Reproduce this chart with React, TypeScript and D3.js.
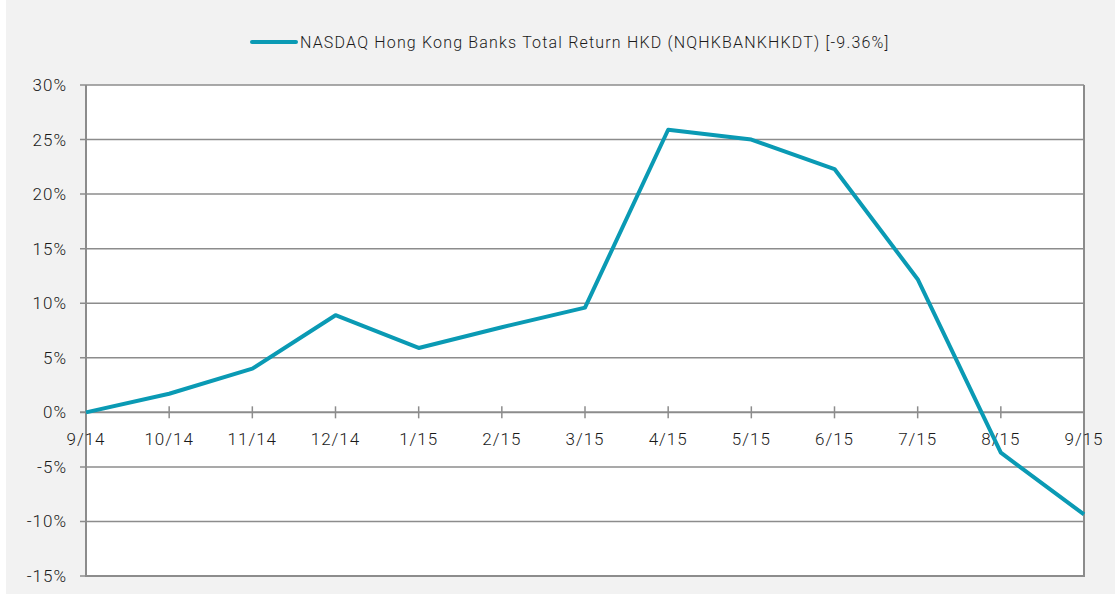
import React from 'react';
import * as d3 from 'd3';

const months = ['9/14', '10/14', '11/14', '12/14', '1/15', '2/15', '3/15', '4/15', '5/15', '6/15', '7/15', '8/15', '9/15'];
const totalReturn = [0, 1.7, 4.0, 8.9, 5.9, 7.8, 9.6, 25.9, 25.0, 22.3, 12.2, -3.7, -9.36];
const yTicks = [30, 25, 20, 15, 10, 5, 0, -5, -10, -15];
const legendLabel = 'NASDAQ Hong Kong Banks Total Return HKD (NQHKBANKHKDT) [-9.36%]';

const W = 1115;
const H = 594;
const LINE = '#0a9ab4';
const GRID = '#8c8c8c';
const FONT = 'Roboto, "Open Sans", sans-serif';

export default function App() {
  const x = d3.scalePoint<string>().domain(months).range([86, 1084]);
  const y = d3.scaleLinear().domain([-15, 30]).range([576, 85]);
  const line = d3.line<number>()
    .x((_, i) => x(months[i]) as number)
    .y(d => y(d));

  const txt = { fontFamily: FONT, fontWeight: 300, letterSpacing: 1, fill: '#1a1a1a' };

  return (
    <svg width={W} height={H} style={{ position: 'absolute', left: 0, top: 0 }}>
      <rect x={6} y={0} width={W - 6} height={H} fill="#f2f2f2" />
      <rect x={86} y={85} width={998} height={491} fill="#fff" />

      {/* legend */}
      <line x1={252} x2={296} y1={42} y2={42} stroke={LINE} strokeWidth={4} strokeLinecap="round" />
      <text x={300} y={48} fontSize={16} {...txt} letterSpacing={1.18}>{legendLabel}</text>

      {/* horizontal grid + y ticks */}
      {yTicks.map(t => (
        <g key={t}>
          <line x1={80} x2={1084} y1={y(t)} y2={y(t)} stroke={GRID} strokeWidth={t === 0 ? 2 : 1.5} />
          <text x={67} y={y(t) + 6} textAnchor="end" fontSize={17} {...txt}>{t}%</text>
        </g>
      ))}

      {/* axes frame */}
      <line x1={86} x2={86} y1={85} y2={577} stroke={GRID} strokeWidth={2} />
      <line x1={1084} x2={1084} y1={85} y2={577} stroke={GRID} strokeWidth={2} />
      <line x1={86} x2={1084} y1={576} y2={576} stroke={GRID} strokeWidth={2} />

      {/* x ticks along zero line */}
      {months.map(m => (
        <g key={m}>
          <line x1={x(m)} x2={x(m)} y1={y(0) - 6} y2={y(0) + 6} stroke={GRID} strokeWidth={1.5} />
          <text x={x(m)} y={y(0) + 33} textAnchor="middle" fontSize={17} {...txt}>{m}</text>
        </g>
      ))}

      <path d={line(totalReturn) || ''} fill="none" stroke={LINE} strokeWidth={4} strokeLinejoin="round" />
    </svg>
  );
}
